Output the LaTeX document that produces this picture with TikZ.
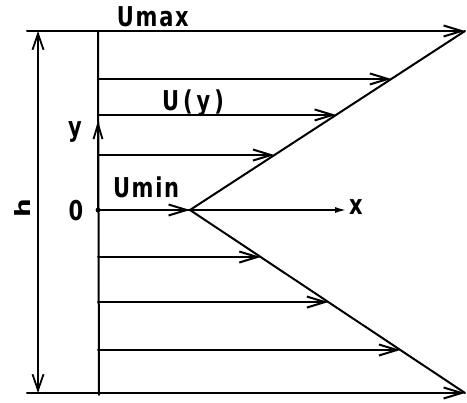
\documentclass[tikz,border=0pt]{standalone}
\usepackage{fontspec}
\setmainfont[LetterSpace=8]{DejaVu Sans}
\usetikzlibrary{arrows.meta,calc}
\newcommand{\tallt}[1]{\scalebox{1}[1.3]{#1}}
\begin{document}
\begin{tikzpicture}[x=1pt,y=-1pt,
  line width=2pt, line cap=round,
  vel/.style={-{Straight Barb[length=18pt,width=11pt,line width=2pt]}},
  dim/.style={{Straight Barb[length=16pt,width=11pt,line width=1.8pt]}-{Straight Barb[length=16pt,width=11pt,line width=1.8pt]}},
  axy/.style={-{Straight Barb[length=15pt,width=9pt,line width=1.8pt]}},
  axx/.style={-{Latex[length=12pt,width=6pt]}},
  lbl/.style={font=\fontsize{21}{24}\selectfont\bfseries, inner sep=0pt}]
\useasboundingbox (0,0) rectangle (467,403);
% key points
\coordinate (wt) at (98,31);
\coordinate (wb) at (99,395);
\coordinate (o) at (98,210);
\coordinate (et) at (27,31);
\coordinate (eb) at (27,393);
\coordinate (ht) at (38,31);
\coordinate (hb) at (38,393);
\coordinate (tipT) at (465,31);
\coordinate (tipB) at (465,393);
\coordinate (pm) at (190,210);
\coordinate (xe) at (347,210);
\coordinate (ye) at (98,121);
% profile points
\coordinate (u1) at ($(pm)!0.732!(tipT)$);
\coordinate (u2) at ($(pm)!0.531!(tipT)$);
\coordinate (u3) at ($(pm)!0.307!(tipT)$);
\coordinate (l1) at ($(pm)!0.257!(tipB)$);
\coordinate (l2) at ($(pm)!0.503!(tipB)$);
\coordinate (l3) at ($(pm)!0.765!(tipB)$);
% wall and extension lines
\draw (wt) -- (wb);
\draw (et) -- (wt);
\draw (eb) -- (o |- eb);
% h dimension
\draw[dim] (ht) -- (hb);
% velocity profile
\draw (tipT) -- (pm) -- (tipB);
% axes
\draw[axx] (o) -- (xe);
\draw[axy] (o) -- (ye);
\fill (o) circle (2.4pt);
% velocity arrows
\draw[vel] (wt) -- (tipT);
\draw[vel] (o |- u1) -- (u1);
\draw[vel] (o |- u2) -- (u2);
\draw[vel] (o |- u3) -- (u3);
\draw[vel] (o) -- (pm);
\draw[vel] (o |- l1) -- (l1);
\draw[vel] (o |- l2) -- (l2);
\draw[vel] (o |- l3) -- (l3);
\draw[vel] (o |- tipB) -- (tipB);
% labels
\node[lbl, anchor=base west] (umax) at (116,27) {\tallt{Umax}};
\node[lbl, anchor=base west] (uy) at (161,111) {\tallt{U\kern4pt(\kern4pt y\kern4pt)}};
\node[lbl, anchor=base west] (umin) at (112,198) {\tallt{Umin}};
\node[lbl, anchor=base west] (xl) at (348,215) {\tallt{x}};
\node[lbl] (yl) at (75,132) {\tallt{y}};
\node[lbl] (zl) at (76,211) {\tallt{0}};
\node[lbl, rotate=90] (hl) at (23,208) {\scalebox{1.25}[1]{h}};
\end{tikzpicture}
\end{document}
